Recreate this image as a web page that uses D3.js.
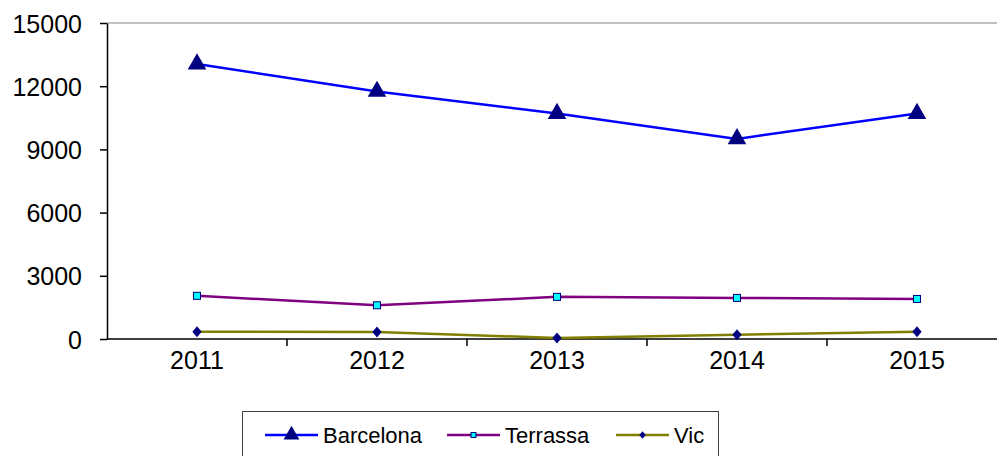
<!DOCTYPE html>
<html>
<head>
<meta charset="utf-8">
<script src="https://cdn.jsdelivr.net/npm/d3@7"></script>
<style>
  html, body { margin: 0; padding: 0; background: #fff; }
  svg text { font-family: Arial, "Liberation Sans", sans-serif; fill: #000; }
</style>
</head>
<body>
<div id="chart"></div>
<script>
// chart data
const years = ["2011", "2012", "2013", "2014", "2015"];
const barcelona = [13050, 11750, 10700, 9500, 10700];
const terrassa = [2050, 1600, 2000, 1950, 1900];
const vic = [350, 330, 50, 200, 350];
const yTicks = [0, 3000, 6000, 9000, 12000, 15000];

const series = [
    { name: "Barcelona", values: barcelona, color: "#0000ff", marker: "triangle" },
    { name: "Terrassa", values: terrassa, color: "#800080", marker: "square" },
    { name: "Vic", values: vic, color: "#808000", marker: "diamond" }
];

const W = 997, H = 456;
const margin = { left: 107, top: 23, right: -10, bottom: 117 };
const innerW = W - margin.left - margin.right;
const innerH = H - margin.top - margin.bottom;

const svg = d3.select("#chart").append("svg")
    .attr("width", W).attr("height", H);

const g = svg.append("g")
    .attr("transform", `translate(${margin.left},${margin.top})`);

const x = d3.scaleBand().domain(years).range([0, innerW]);
const y = d3.scaleLinear().domain([0, 15000]).range([innerH, 0]);

// top border of plot area
g.append("line")
    .attr("x1", 0).attr("x2", innerW)
    .attr("y1", y(15000)).attr("y2", y(15000))
    .attr("stroke", "#c0c0c0").attr("stroke-width", 2);

// y axis
const yAxis = g.append("g")
    .call(d3.axisLeft(y).tickValues(yTicks).tickFormat(d3.format("d"))
        .tickSize(7).tickPadding(18).tickSizeOuter(0));
yAxis.select(".domain").attr("stroke", "#000").attr("stroke-width", 1.5);
yAxis.selectAll(".tick line").attr("stroke", "#000").attr("stroke-width", 1.5);
yAxis.selectAll("text").style("font-size", "25px").attr("dy", "0.36em");

// x axis, ticks between categories
const xAxisG = g.append("g").attr("transform", `translate(0,${innerH})`);
xAxisG.append("line")
    .attr("x1", 0).attr("x2", innerW)
    .attr("stroke", "#000").attr("stroke-width", 1.5);
xAxisG.selectAll(".sep")
    .data(years.slice(1))
    .join("line")
    .attr("class", "sep")
    .attr("x1", d => x(d)).attr("x2", d => x(d))
    .attr("y1", 0).attr("y2", 7)
    .attr("stroke", "#000").attr("stroke-width", 1.5);
xAxisG.selectAll(".lbl")
    .data(years)
    .join("text")
    .attr("class", "lbl")
    .attr("x", d => x(d) + x.bandwidth() / 2)
    .attr("y", 30)
    .attr("text-anchor", "middle")
    .style("font-size", "25px")
    .text(d => d);

const cx = i => x(years[i]) + x.bandwidth() / 2;

function drawMarker(sel, type, px, py, scale) {
    const s = scale || 1;
    if (type === "triangle") {
        sel.append("path")
            .attr("d", d3.symbol(d3.symbolTriangle, 150 * s * s)())
            .attr("transform", `translate(${px},${py})`)
            .attr("fill", "#000080");
    } else if (type === "square") {
        const r = 3.5 * s;
        sel.append("rect")
            .attr("x", px - r).attr("y", py - r)
            .attr("width", 2 * r).attr("height", 2 * r)
            .attr("fill", "#00ffff").attr("stroke", "#000080").attr("stroke-width", 1);
    } else {
        const r = 5.5 * s;
        sel.append("path")
            .attr("d", `M${px},${py - r}L${px + r * 0.85},${py}L${px},${py + r}L${px - r * 0.85},${py}Z`)
            .attr("fill", "#000080");
    }
}

series.forEach(s => {
    const line = d3.line()
        .x((d, i) => cx(i))
        .y(d => y(d));
    g.append("path")
        .datum(s.values)
        .attr("d", line)
        .attr("fill", "none")
        .attr("stroke", s.color)
        .attr("stroke-width", 2.5);
    s.values.forEach((v, i) => drawMarker(g, s.marker, cx(i), y(v)));
});

// legend
const legend = svg.append("g");
legend.append("rect")
    .attr("x", 242.5).attr("y", 411.5)
    .attr("width", 476).attr("height", 60)
    .attr("fill", "#fff").attr("stroke", "#404040").attr("stroke-width", 1);

const legendX = [265, 447, 616];
series.forEach((s, i) => {
    const lx = legendX[i], ly = 435;
    legend.append("line")
        .attr("x1", lx).attr("x2", lx + 53)
        .attr("y1", ly).attr("y2", ly)
        .attr("stroke", s.color).attr("stroke-width", 2.5);
    drawMarker(legend, s.marker, lx + 26.5, ly, s.marker === "triangle" ? 0.85 : 0.7);
    legend.append("text")
        .attr("x", lx + 58).attr("y", ly)
        .attr("dy", "0.36em")
        .style("font-size", "22px")
        .text(s.name);
});
</script>
</body>
</html>
